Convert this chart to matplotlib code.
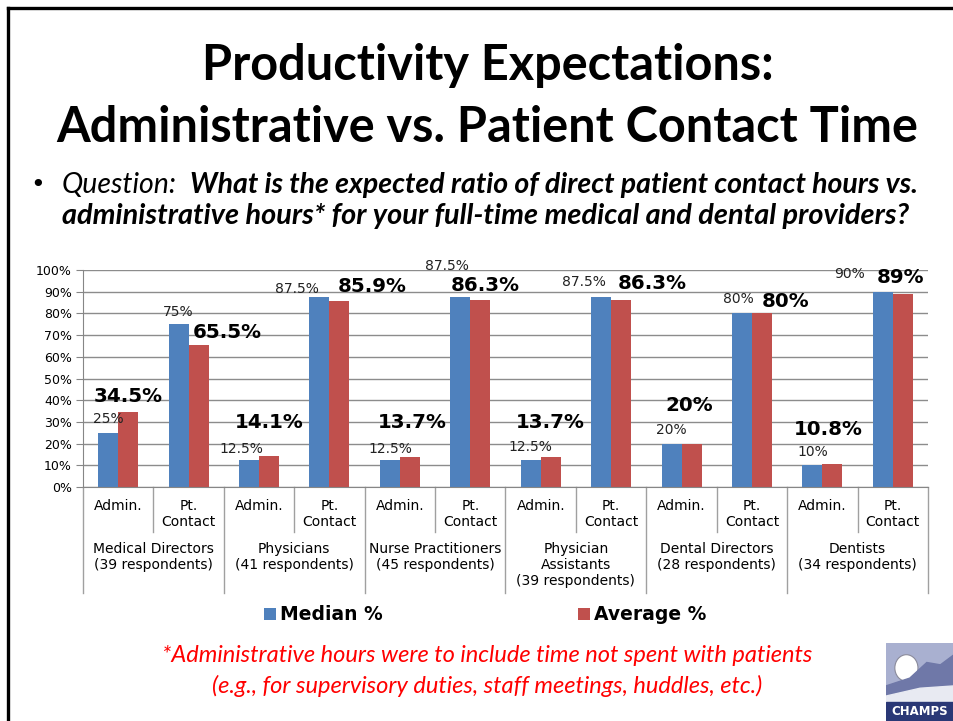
import matplotlib.pyplot as plt
import numpy as np
from matplotlib.transforms import blended_transform_factory
from matplotlib.patches import Rectangle, Circle, Polygon
from matplotlib.lines import Line2D

# Survey results (percent of provider time)
groups = ["Medical Directors\n(39 respondents)", "Physicians\n(41 respondents)",
          "Nurse Practitioners\n(45 respondents)", "Physician\nAssistants\n(39 respondents)",
          "Dental Directors\n(28 respondents)", "Dentists\n(34 respondents)"]
sub_labels = ["Admin.", "Pt.\nContact"]
median_pct = [25, 75, 12.5, 87.5, 12.5, 87.5, 12.5, 87.5, 20, 80, 10, 90]
average_pct = [34.5, 65.5, 14.1, 85.9, 13.7, 86.3, 13.7, 86.3, 20, 80, 10.8, 89]

# label nudges in pixels (dx, dy above bar top) so labels don't collide
median_off = [(0, 14), (0, 12), (-8, 11), (-23, 8), (0, 11), (-13, 31),
              (0, 13), (-17, 15), (0, 14), (-4, 14), (0, 13), (-33, 18)]
average_off = [(0, 16), (29, 12), (0, 34), (33, 14), (2, 35), (5, 14),
               (0, 35), (31, 16), (-2, 38), (24, 12), (-4, 34), (-2, 16)]

BLUE = "#4F81BD"
RED = "#C0504D"
W, H = 954, 721

fig = plt.figure(figsize=(W / 100, H / 100), dpi=100)
fig.patch.set_facecolor("white")

def fy(py):
    return 1 - py / H

def fx(px):
    return px / W

# slide frame
fig.add_artist(Line2D([fx(8), fx(8)], [fy(8), fy(730)], color="black", lw=2.4))
fig.add_artist(Line2D([fx(8), fx(960)], [fy(8), fy(8)], color="black", lw=2.4))

# title
fig.text(fx(488), fy(65), "Productivity Expectations:", ha="center", va="center",
         fontsize=35, fontweight="bold", family="Lato")
fig.text(fx(487), fy(127), "Administrative vs. Patient Contact Time", ha="center", va="center",
         fontsize=35, fontweight="bold", family="Lato")

# question
fig.text(fx(30), fy(185), "\u2022", ha="left", va="center", fontsize=18, family="DejaVu Sans")
fig.text(fx(62), fy(185), "Question:", ha="left", va="center", fontsize=20.5,
         style="italic", family="Lato")
fig.text(fx(190), fy(185), "What is the expected ratio of direct patient contact hours vs.",
         ha="left", va="center", fontsize=20.5, style="italic", fontweight="bold", family="Lato")
fig.text(fx(62), fy(216), "administrative hours* for your full-time medical and dental providers?",
         ha="left", va="center", fontsize=20.8, style="italic", fontweight="bold", family="Lato")

# chart
ax = fig.add_axes([fx(83), fy(487), fx(928) - fx(83), fy(270) - fy(487)])
x = np.arange(len(median_pct))
bw = 0.284
b1 = ax.bar(x - bw / 2, median_pct, bw, color=BLUE, label="Median %", zorder=3)
b2 = ax.bar(x + bw / 2, average_pct, bw, color=RED, label="Average %", zorder=3)

for bar, v, (dx, dy) in zip(b1, median_pct, median_off):
    ax.annotate(f"{v:g}%", (bar.get_x() + bar.get_width() / 2, v),
                xytext=(dx, dy), textcoords="offset pixels", ha="center", va="center",
                fontsize=10, color="#222222", annotation_clip=False)
for bar, v, (dx, dy) in zip(b2, average_pct, average_off):
    ax.annotate(f"{v:g}%", (bar.get_x() + bar.get_width() / 2, v),
                xytext=(dx, dy), textcoords="offset pixels", ha="center", va="center",
                fontsize=14.3, fontweight="bold", color="black", annotation_clip=False)

ax.set_xlim(-0.5, len(median_pct) - 0.5)
ax.set_ylim(0, 100)
ax.set_yticks(range(0, 101, 10))
ax.set_yticklabels([f"{t}%" for t in range(0, 101, 10)], fontsize=9)
ax.set_xticks([])
ax.tick_params(axis="y", length=5, color="#868686", pad=3)
ax.grid(axis="y", color="#8c8c8c", lw=1.0, zorder=0)
for s in ["top", "right"]:
    ax.spines[s].set_visible(False)
ax.spines["left"].set_color("#868686")
ax.spines["bottom"].set_color("#868686")
ax.spines["bottom"].set_zorder(4)

# category axis: separators and two-level labels
tr = blended_transform_factory(ax.transData, fig.transFigure)
for k in range(len(median_pct) + 1):
    bottom = 593 if k % 2 == 0 else 532
    ax.plot([k - 0.5, k - 0.5], [fy(487), fy(bottom)], transform=tr,
            color="#a0a0a0", lw=1.0, clip_on=False)
for k in range(len(median_pct)):
    ax.text(k, fy(499), sub_labels[k % 2], transform=tr, ha="center", va="top",
            fontsize=10, linespacing=1.2)
for g, name in enumerate(groups):
    ax.text(2 * g + 0.5, fy(542), name, transform=tr, ha="center", va="top",
            fontsize=10, linespacing=1.2)

fig.legend(handles=[b1, b2], loc="center", bbox_to_anchor=(fx(485), fy(615)), ncol=2,
           frameon=False, prop={"weight": "bold", "size": 13.5}, handlelength=0.65,
           handleheight=0.65, handletextpad=0.2, columnspacing=10.4)

# footnote
fig.text(fx(487), fy(655), "*Administrative hours were to include time not spent with patients",
         ha="center", va="center", fontsize=17, style="italic", color="#ff0000", family="Lato")
fig.text(fx(487), fy(686), "(e.g., for supervisory duties, staff meetings, huddles, etc.)",
         ha="center", va="center", fontsize=17, style="italic", color="#ff0000", family="Lato")

# small organisation logo
lg = fig.add_axes([fx(886), 0.0, fx(954) - fx(886), fy(643)])
lg.set_xlim(0, 1)
lg.set_ylim(0, 1)
lg.axis("off")
lg.add_patch(Rectangle((0, 0), 1, 1, color="#a9b0d0"))
lg.add_patch(Circle((0.3, 0.68), 0.17, facecolor="white", edgecolor="#8a8a9a", lw=0.8))
lg.add_patch(Polygon([(0, 0.45), (0.35, 0.55), (0.6, 0.75), (0.8, 0.72), (1, 0.85), (1, 0.4), (0, 0.3)],
                     color="#6f78a8"))
lg.add_patch(Polygon([(0, 0.32), (0.5, 0.42), (1, 0.45), (1, 0.22), (0, 0.22)], color="#e8eaf2"))
lg.add_patch(Rectangle((0, 0), 1, 0.24, color="#2a3876"))
lg.text(0.5, 0.12, "CHAMPS", ha="center", va="center", color="white", fontsize=8.5,
        fontweight="bold")

fig.savefig("out.png", dpi=100)
